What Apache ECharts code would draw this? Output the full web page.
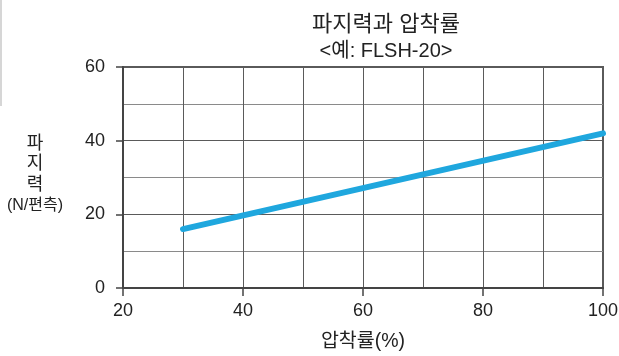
<!DOCTYPE html>
<html>
<head>
<meta charset="utf-8">
<script src="https://cdn.jsdelivr.net/npm/echarts@6/dist/echarts.min.js"></script>
<style>
  html, body { margin: 0; padding: 0; background: #fff; }
  #chart { width: 619px; height: 356px; }
</style>
</head>
<body>
<div id="chart"></div>
<script>
// Gripping force vs. compression ratio (example model FLSH-20)
const compressionPct = [30, 100];
const gripForce = [16, 42];
const xTicks = [20, 40, 60, 80, 100];
const yTicks = [0, 20, 40, 60];

const FONT = '"Liberation Sans", Arial, "Noto Sans CJK KR", sans-serif';
const TEXT = '#222';
const GRID = '#5a5a5a';
const AXIS = '#444';

const chart = echarts.init(document.getElementById('chart'), null, { renderer: 'canvas' });

chart.setOption({
  animation: false,
  backgroundColor: '#fff',
  textStyle: { fontFamily: FONT },
  title: {
    text: '{k|파지력과 압착률}\n{e|<예: FLSH-20>}',
    left: 381,
    top: 7,
    textAlign: 'center',
    textStyle: {
      fontFamily: FONT, fontWeight: 'normal', color: TEXT,
      rich: {
        k: { fontFamily: FONT, fontSize: 22, color: TEXT, lineHeight: 26, align: 'center' },
        e: { fontFamily: FONT, fontSize: 20, color: TEXT, lineHeight: 26, align: 'center' }
      }
    }
  },
  graphic: [{
    type: 'rect',
    shape: { x: 0, y: 0, width: 2, height: 106 },
    style: { fill: '#d6d6d6' },
    silent: true
  }],
  grid: {
    left: 123, right: 16, top: 67, bottom: 68,
    outerBoundsMode: 'none',
    containLabel: false,
    show: true, borderColor: GRID, borderWidth: 2
  },
  xAxis: {
    type: 'value',
    min: xTicks[0], max: xTicks[xTicks.length - 1], interval: 20,
    name: '압착률(%)',
    nameLocation: 'middle',
    nameGap: 44,
    nameTextStyle: { fontFamily: FONT, fontSize: 19.5, color: TEXT },
    axisLine: { show: true, lineStyle: { color: AXIS, width: 2 } },
    axisTick: { show: true, length: 8, lineStyle: { color: AXIS, width: 1.5 } },
    minorTick: { show: false, splitNumber: 2 },
    axisLabel: { fontFamily: FONT, fontSize: 18, color: TEXT, margin: 14 },
    splitLine: { show: true, lineStyle: { color: GRID, width: 1 } },
    minorSplitLine: { show: true, lineStyle: { color: GRID, width: 1 } }
  },
  yAxis: {
    type: 'value',
    min: yTicks[0], max: yTicks[yTicks.length - 1], interval: 20,
    name: '{k|파}\n{k|지}\n{k|력}\n{u|(N/편측)}',
    nameLocation: 'middle',
    nameRotate: 0,
    nameGap: 88,
    nameTextStyle: {
      fontFamily: FONT, fontSize: 16, color: TEXT,
      align: 'center', verticalAlign: 'middle',
      padding: [0, 0, 6, 0],
      rich: {
        k: { fontFamily: FONT, fontSize: 18, color: TEXT, lineHeight: 20.5, align: 'center' },
        u: { fontFamily: FONT, fontSize: 16, color: TEXT, lineHeight: 20.5, align: 'center' }
      }
    },
    axisLine: { show: true, lineStyle: { color: AXIS, width: 2 } },
    axisTick: { show: true, length: 7, lineStyle: { color: AXIS, width: 1.5 } },
    minorTick: { show: false, splitNumber: 2 },
    axisLabel: { fontFamily: FONT, fontSize: 18, color: TEXT, margin: 18 },
    splitLine: { show: true, lineStyle: { color: GRID, width: 1 } },
    minorSplitLine: { show: true, lineStyle: { color: '#8a8a8a', width: 1 } }
  },
  series: [{
    type: 'line',
    data: compressionPct.map((x, i) => [x, gripForce[i]]),
    showSymbol: false,
    symbol: 'none',
    lineStyle: { color: '#1fa7de', width: 6, cap: 'round' },
    z: 5
  }]
});
</script>
</body>
</html>
